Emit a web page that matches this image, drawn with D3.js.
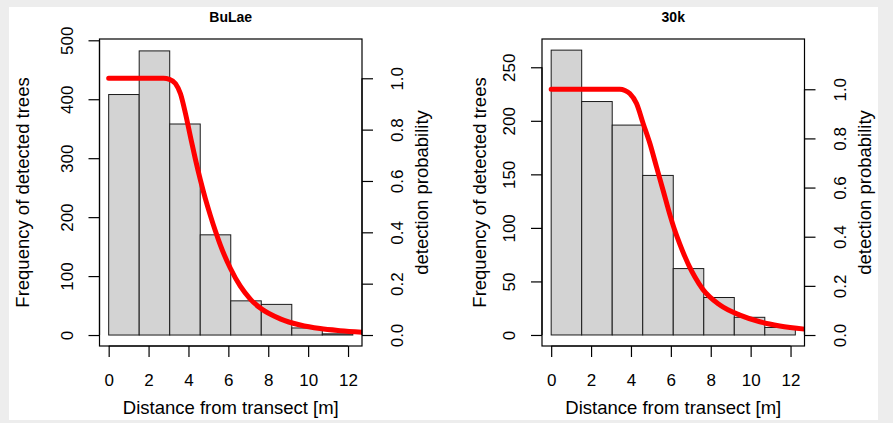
<!DOCTYPE html>
<html>
<head>
<meta charset="utf-8">
<script src="https://cdn.jsdelivr.net/npm/d3@7"></script>
<style>
    body { margin: 0; background: #ededed; }
    svg { display: block; font-family: "Liberation Sans", Arial, sans-serif; }
</style>
</head>
<body>
<div id="chart"></div>
<script>
// histogram breaks (m), shared by both panels
const breaks = [0, 1.53, 3.06, 4.59, 6.12, 7.65, 9.18, 10.71, 12.24];

// tree counts per bin
const countsBuLae = [408, 482, 358, 170, 58, 52, 12, 2];
const counts30k = [266, 218, 196, 149, 62, 35, 16.5, 7];

// fitted detection function
const curveXBuLae = [0, 2.75, 3.05, 3.35, 3.6, 3.85, 4.1, 4.35, 4.6, 4.85, 5.1, 5.35, 5.6, 6.1, 6.6, 7.1, 7.6, 8.6, 9.6, 10.6, 11.6, 12.7];
const curvePBuLae = [1, 1, 0.996, 0.979, 0.94, 0.863, 0.772, 0.684, 0.603, 0.53, 0.465, 0.405, 0.35, 0.26, 0.19, 0.14, 0.105, 0.063, 0.039, 0.025, 0.017, 0.011];
const curveX30k = [0, 3.44, 3.7, 3.94, 4.28, 4.61, 4.95, 5.28, 5.61, 5.95, 6.2, 6.45, 6.7, 6.95, 7.2, 7.6, 8.46, 9.46, 10.46, 11.46, 12.7];
const curveP30k = [1, 1, 0.995, 0.983, 0.942, 0.861, 0.779, 0.684, 0.589, 0.49, 0.425, 0.37, 0.32, 0.275, 0.237, 0.186, 0.122, 0.081, 0.054, 0.037, 0.024];

// tick values
const xTicks = [0, 2, 4, 6, 8, 10, 12];
const yTicksBuLae = [0, 100, 200, 300, 400, 500];
const yTicks30k = [0, 50, 100, 150, 200, 250];
const pTicks = [0, 0.2, 0.4, 0.6, 0.8, 1.0];

const width = 893, height = 423;

const svg = d3.select('#chart').append('svg')
    .attr('width', width)
    .attr('height', height);

svg.append('rect')
    .attr('x', 9).attr('y', 7)
    .attr('width', 869).attr('height', 413)
    .attr('fill', '#ffffff');

function drawPanel(cfg) {
    let top = 39, bottom = 346;
    let left = cfg.left, right = cfg.left + 262.5;

    let x = d3.scaleLinear().domain([-0.46, 12.7]).range([left, right]);
    let y = d3.scaleLinear().domain(cfg.yDomain).range([bottom, top]);
    let p = d3.scaleLinear().domain(cfg.pDomain).range([bottom, top]);

    let g = svg.append('g');

    // bars
    let bins = cfg.counts.map((c, i) => ({ x0: breaks[i], x1: breaks[i + 1], n: c }));
    g.selectAll('rect.bar').data(bins).enter()
        .append('rect')
        .attr('class', 'bar')
        .attr('x', d => x(d.x0))
        .attr('y', d => y(d.n))
        .attr('width', d => x(d.x1) - x(d.x0))
        .attr('height', d => y(0) - y(d.n))
        .attr('fill', '#d3d3d3')
        .attr('stroke', '#1a1a1a')
        .attr('stroke-width', 1);

    // detection curve
    let clipId = 'clip-' + cfg.id;
    svg.append('clipPath').attr('id', clipId)
        .append('rect')
        .attr('x', left).attr('y', top)
        .attr('width', right - left).attr('height', bottom - top);

    let pts = cfg.curveX.map((v, i) => [v, cfg.curveP[i]]);
    g.append('path')
        .datum(pts)
        .attr('clip-path', `url(#${clipId})`)
        .attr('fill', 'none')
        .attr('stroke', '#ff0000')
        .attr('stroke-width', 5)
        .attr('stroke-linecap', 'round')
        .attr('stroke-linejoin', 'round')
        .attr('d', d3.line().x(d => x(d[0])).y(d => p(d[1])).curve(d3.curveMonotoneX));

    // box
    g.append('rect')
        .attr('x', left).attr('y', top)
        .attr('width', right - left).attr('height', bottom - top)
        .attr('fill', 'none')
        .attr('stroke', '#000')
        .attr('stroke-width', 1.2);

    // axes
    let xAxis = g.append('g')
        .attr('transform', `translate(0, ${bottom})`)
        .call(d3.axisBottom(x).tickValues(xTicks).tickSize(11).tickPadding(17).tickSizeOuter(0));
    xAxis.select('.domain').attr('d', `M${x(0)},0H${x(12)}`);

    let yAxis = g.append('g')
        .attr('transform', `translate(${left}, 0)`)
        .call(d3.axisLeft(y).tickValues(cfg.yTicks).tickSize(11).tickSizeOuter(0));
    yAxis.select('.domain').attr('d', `M0,${y(0)}V${y(cfg.yTicks[cfg.yTicks.length - 1])}`);
    yAxis.selectAll('.tick text')
        .attr('x', null).attr('dy', null)
        .attr('text-anchor', 'middle')
        .attr('transform', `translate(-27, 0) rotate(-90)`);

    let pAxis = g.append('g')
        .attr('transform', `translate(${right}, 0)`)
        .call(d3.axisRight(p).tickValues(pTicks).tickSize(11).tickSizeOuter(0).tickFormat(d3.format('.1f')));
    pAxis.select('.domain').attr('d', `M0,${p(0)}V${p(1)}`);
    pAxis.selectAll('.tick text')
        .attr('x', null).attr('dy', null)
        .attr('text-anchor', 'middle')
        .attr('transform', `translate(41, 0) rotate(-90)`);

    g.selectAll('.tick text')
        .attr('font-size', 17)
        .attr('font-family', '"Liberation Sans", Arial, sans-serif')
        .attr('fill', '#000');
    g.selectAll('.tick line, .domain').attr('stroke', '#000').attr('stroke-width', 1.2);

    let mid = (top + bottom) / 2;

    // titles
    g.append('text')
        .attr('x', (left + right) / 2).attr('y', 21.5)
        .attr('text-anchor', 'middle')
        .attr('font-size', 14)
        .attr('font-weight', 'bold')
        .text(cfg.title);

    g.append('text')
        .attr('x', (left + right) / 2).attr('y', 414)
        .attr('text-anchor', 'middle')
        .attr('font-size', 18.5)
        .text('Distance from transect [m]');

    g.append('text')
        .attr('transform', `translate(${left - cfg.yTitleOffset}, ${mid}) rotate(-90)`)
        .attr('text-anchor', 'middle')
        .attr('font-size', 18.5)
        .text('Frequency of detected trees');

    g.append('text')
        .attr('transform', `translate(${right + 66}, ${mid}) rotate(-90)`)
        .attr('text-anchor', 'middle')
        .attr('font-size', 18.5)
        .text('detection probability');
}

drawPanel({
    id: 'bulae', title: 'BuLae', left: 99.5,
    counts: countsBuLae, curveX: curveXBuLae, curveP: curvePBuLae,
    yTicks: yTicksBuLae, yDomain: [-18.6, 502.2], pDomain: [-0.0428, 1.153],
    yTitleOffset: 71
});

drawPanel({
    id: 'k30', title: '30k', left: 542,
    counts: counts30k, curveX: curveX30k, curveP: curveP30k,
    yTicks: yTicks30k, yDomain: [-10.3, 276.4], pDomain: [-0.0447, 1.2045],
    yTitleOffset: 56
});
</script>
</body>
</html>
